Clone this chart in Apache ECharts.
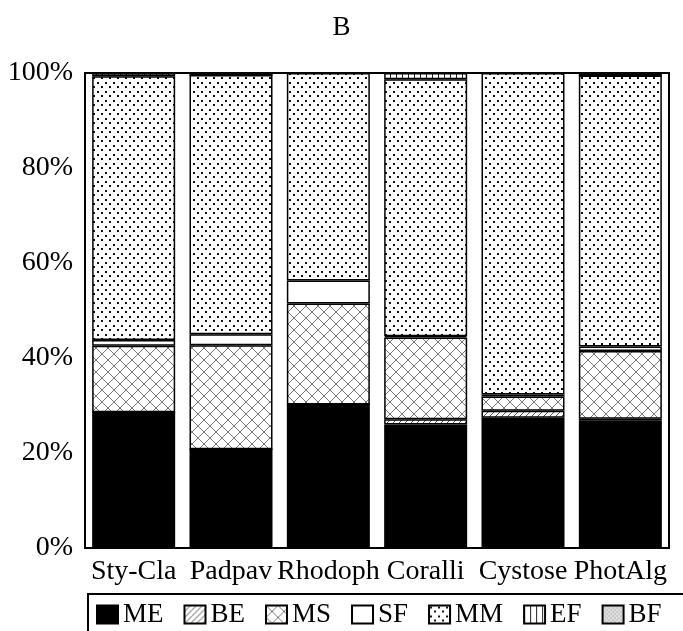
<!DOCTYPE html>
<html>
<head>
<meta charset="utf-8">
<script src="https://cdn.jsdelivr.net/npm/echarts@6/dist/echarts.min.js"></script>
<style>
  html, body { margin: 0; padding: 0; background: #fff; }
  #chart { width: 683px; height: 631px; }
</style>
</head>
<body>
<div id="chart"></div>
<script>
const categories = ['Sty-Cla', 'Padpav', 'Rhodoph', 'Coralli', 'Cystose', 'PhotAlg'];
const ME = [28.6, 20.8, 30.2, 26.0, 27.4, 26.8];
const BE = [0, 0, 0, 1.1, 1.5, 0.4];
const MS = [14.0, 21.9, 21.3, 17.2, 3.0, 14.3];
const SF = [1.2, 2.3, 4.8, 0.3, 0.4, 0.9];
const MM = [55.5, 54.6, 43.7, 54.1, 67.7, 57.1];
const EF = [0.7, 0, 0, 1.3, 0, 0];
const BF = [0, 0.4, 0, 0, 0, 0.5];
const yTicks = [0, 20, 40, 60, 80, 100];

const serif = '"Liberation Serif", "DejaVu Serif", serif';

// fill patterns drawn on small canvases
function pattern(kind) {
  if (kind === 'solid') return '#000';
  if (kind === 'white') return '#fff';
  const c = document.createElement('canvas');
  const ctx = c.getContext('2d');
  if (kind === 'diag') {
    c.width = 6; c.height = 6;
    ctx.fillStyle = '#fff'; ctx.fillRect(0, 0, 6, 6);
    ctx.strokeStyle = '#555'; ctx.lineWidth = 1;
    ctx.beginPath();
    ctx.moveTo(0, 6); ctx.lineTo(6, 0);
    ctx.moveTo(-3, 3); ctx.lineTo(3, -3);
    ctx.moveTo(3, 9); ctx.lineTo(9, 3);
    ctx.stroke();
  } else if (kind === 'cross') {
    c.width = 12; c.height = 12;
    ctx.fillStyle = '#fff'; ctx.fillRect(0, 0, 12, 12);
    ctx.strokeStyle = '#777'; ctx.lineWidth = 1;
    ctx.beginPath();
    ctx.moveTo(0, 0); ctx.lineTo(12, 12);
    ctx.moveTo(12, 0); ctx.lineTo(0, 12);
    ctx.stroke();
  } else if (kind === 'dots') {
    c.width = 8; c.height = 9;
    ctx.fillStyle = '#fff'; ctx.fillRect(0, 0, 8, 9);
    ctx.fillStyle = '#111';
    ctx.fillRect(1, 1, 2, 2);
    ctx.fillRect(5, 5, 2, 2);
  } else if (kind === 'vert') {
    c.width = 6; c.height = 6;
    ctx.fillStyle = '#fff'; ctx.fillRect(0, 0, 6, 6);
    ctx.fillStyle = '#222';
    ctx.fillRect(0, 0, 1, 6);
  } else if (kind === 'grey') {
    c.width = 4; c.height = 4;
    ctx.fillStyle = '#ddd'; ctx.fillRect(0, 0, 4, 4);
    ctx.fillStyle = '#999';
    ctx.fillRect(0, 0, 1, 1);
    ctx.fillRect(2, 2, 1, 1);
  }
  return { image: c, repeat: 'repeat' };
}

const seriesDefs = [
  ['ME', ME, 'solid'],
  ['BE', BE, 'diag'],
  ['MS', MS, 'cross'],
  ['SF', SF, 'white'],
  ['MM', MM, 'dots'],
  ['EF', EF, 'vert'],
  ['BF', BF, 'grey']
];

const chart = echarts.init(document.getElementById('chart'), null, { renderer: 'canvas' });

const option = {
  animation: false,
  backgroundColor: '#fff',
  title: {
    text: 'B',
    left: 'center',
    top: 9,
    textStyle: { fontFamily: serif, fontSize: 27, fontWeight: 'normal', color: '#000' }
  },
  legend: {
    left: 88,
    top: 594,
    width: 640,
    padding: [7, 60, 10, 8],
    borderColor: '#000',
    borderWidth: 2,
    icon: 'rect',
    itemWidth: 21,
    itemHeight: 18,
    itemGap: 20,
    textStyle: { fontFamily: serif, fontSize: 27, color: '#000' },
    data: seriesDefs.map(d => d[0])
  },
  grid: {
    left: 85,
    right: 14,
    top: 73,
    bottom: 83,
    show: true,
    borderColor: '#000',
    borderWidth: 2
  },
  xAxis: {
    type: 'category',
    data: categories,
    axisLine: { show: false },
    axisTick: { show: false },
    axisLabel: { fontFamily: serif, fontSize: 28, color: '#000', margin: 10, interval: 0 }
  },
  yAxis: {
    type: 'value',
    min: 0,
    max: 100,
    interval: 20,
    axisLine: { show: false },
    axisTick: { show: false },
    splitLine: { show: false },
    axisLabel: {
      fontFamily: serif, fontSize: 28, color: '#000', margin: 12,
      formatter: v => (yTicks.indexOf(v) >= 0 ? v + '%' : '')
    }
  },
  series: seriesDefs.map(([name, data, kind]) => ({
    name: name,
    type: 'bar',
    stack: 'total',
    barWidth: 83,
    data: data,
    itemStyle: { color: pattern(kind), borderColor: '#000', borderWidth: 1.5 }
  }))
};

chart.setOption(option);
</script>
</body>
</html>
